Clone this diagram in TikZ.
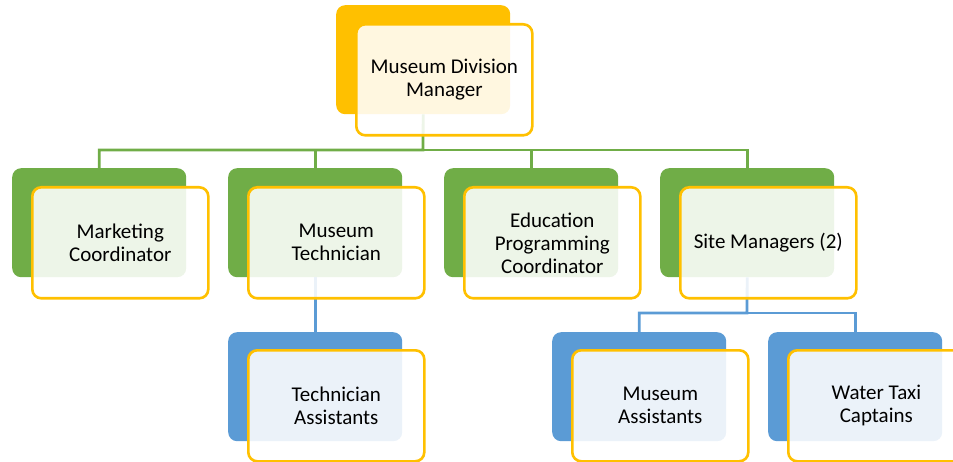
\documentclass[tikz,border=0pt]{standalone}
\usepackage{fontspec}
\setmainfont{Carlito}
\definecolor{gold}{HTML}{FFC000}
\definecolor{leaf}{HTML}{70AD47}
\definecolor{sky}{HTML}{5B9BD5}
\begin{document}
\begin{tikzpicture}[x=1pt,y=-1pt,
  back/.style={rounded corners=9pt, minimum width=174pt, minimum height=109pt, inner sep=0pt, anchor=north west},
  front/.style={rounded corners=9pt, draw=gold, line width=2.6pt, fill=white, fill opacity=0.88, text opacity=1,
    minimum width=176pt, minimum height=111pt, inner sep=0pt, anchor=north west, align=center,
    font=\fontsize{21}{23}\selectfont},
  greenconn/.style={draw=leaf, line width=2.8pt},
  blueconn/.style={draw=sky, line width=2.8pt}]
\useasboundingbox (0,0) rectangle (953,462);
\clip (0,0) rectangle (953,462);
% back rectangles
\node[back, fill=gold] (b0) at (336,5) {};
\node[back, fill=leaf] (b1) at (12,168) {};
\node[back, fill=leaf] (b2) at (228,168) {};
\node[back, fill=leaf] (b3) at (444,168) {};
\node[back, fill=leaf] (b4) at (660,168) {};
\node[back, fill=sky] (b5) at (228,332) {};
\node[back, fill=sky] (b6) at (552,332) {};
\node[back, fill=sky] (b7) at (768,332) {};
% connectors
\coordinate (j0) at (423,150);
\draw[greenconn] (b0.south) -- (j0) -| (b1.north);
\draw[greenconn] (j0) -| (b2.north);
\draw[greenconn] (j0) -| (b3.north);
\draw[greenconn] (j0) -| (b4.north);
\draw[blueconn] (b2.south) -- (b5.north);
\coordinate (j4) at (747,313);
\draw[blueconn] (b4.south) -- (j4) -| (b6.north);
\draw[blueconn] (j4) -| (b7.north);
% front boxes
\node[front] (f0) at (355,23) {Museum Division\\Manager};
\node[front] (f1) at (31,186) {Marketing\\Coordinator};
\node[front] (f2) at (247,186) {Museum\\Technician};
\node[front] (f3) at (463,186) {Education\\Programming\\Coordinator};
\node[front] (f4) at (679,186) {Site Managers (2)};
\node[front] (f5) at (247,349) {Technician\\Assistants};
\node[front] (f6) at (571,349) {Museum\\Assistants};
\node[front] (f7) at (787,349) {Water Taxi\\Captains};
\end{tikzpicture}
\end{document}
